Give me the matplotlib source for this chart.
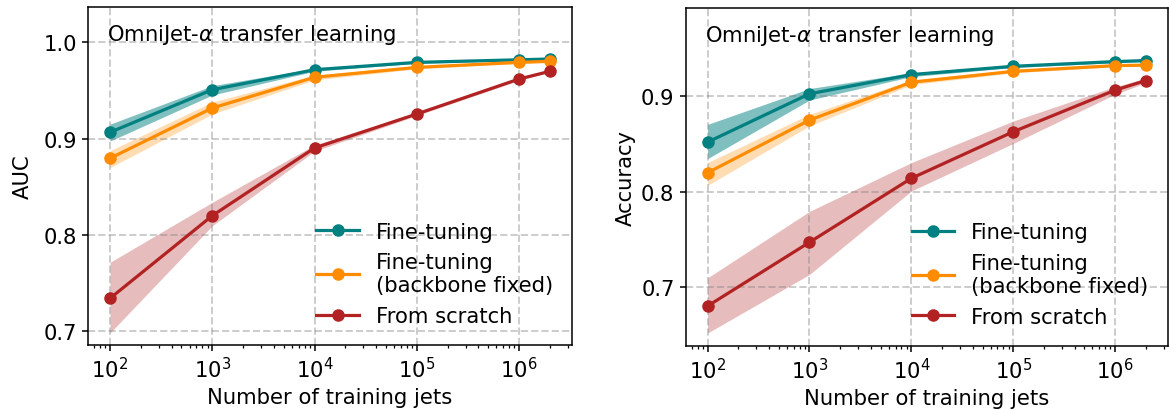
import numpy as np
import matplotlib
matplotlib.use("Agg")
import matplotlib.pyplot as plt

n_jets = [1e2, 1e3, 1e4, 1e5, 1e6, 2e6]
labels = ["Fine-tuning", "Fine-tuning\n(backbone fixed)", "From scratch"]
colors = ["#008080", "#ff8c00", "#b22222"]
band_alpha = [0.5, 0.3, 0.3]

# AUC (left panel): mean, lower, upper
auc_ft = [0.9066, 0.9508, 0.9716, 0.9792, 0.9819, 0.9827]
auc_ft_lo = [0.8975, 0.9453, 0.9700, 0.9782, 0.9810, 0.9820]
auc_ft_hi = [0.9150, 0.9550, 0.9730, 0.9800, 0.9828, 0.9834]
auc_fix = [0.8796, 0.9318, 0.9637, 0.9740, 0.9792, 0.9803]
auc_fix_lo = [0.8700, 0.9256, 0.9610, 0.9725, 0.9782, 0.9795]
auc_fix_hi = [0.8875, 0.9380, 0.9660, 0.9752, 0.9800, 0.9811]
auc_fs = [0.7342, 0.8200, 0.8903, 0.9256, 0.9619, 0.9699]
auc_fs_lo = [0.6983, 0.8096, 0.8870, 0.9240, 0.9605, 0.9690]
auc_fs_hi = [0.7716, 0.8339, 0.8935, 0.9272, 0.9630, 0.9708]

# Accuracy (right panel)
acc_ft = [0.8520, 0.9025, 0.9226, 0.9313, 0.9362, 0.9373]
acc_ft_lo = [0.8347, 0.8960, 0.9205, 0.9300, 0.9350, 0.9362]
acc_ft_hi = [0.8705, 0.9080, 0.9245, 0.9325, 0.9374, 0.9384]
acc_fix = [0.8200, 0.8750, 0.9146, 0.9260, 0.9320, 0.9325]
acc_fix_lo = [0.8068, 0.8690, 0.9120, 0.9245, 0.9308, 0.9315]
acc_fix_hi = [0.8306, 0.8810, 0.9170, 0.9275, 0.9332, 0.9335]
acc_fs = [0.6805, 0.7472, 0.8141, 0.8628, 0.9063, 0.9164]
acc_fs_lo = [0.6523, 0.7135, 0.8008, 0.8506, 0.9020, 0.9140]
acc_fs_hi = [0.7100, 0.7795, 0.8305, 0.8740, 0.9100, 0.9188]

auc_yticks = [0.7, 0.8, 0.9, 1.0]
acc_yticks = [0.7, 0.8, 0.9]

FS = 15.2
fig = plt.figure(figsize=(11.69, 4.14), dpi=100)
ax1 = fig.add_axes([0.0753, 0.1643, 0.4138, 0.8164])
ax2 = fig.add_axes([0.5866, 0.1626, 0.4122, 0.8164])

panels = [
    (ax1, [(auc_ft, auc_ft_lo, auc_ft_hi), (auc_fix, auc_fix_lo, auc_fix_hi),
           (auc_fs, auc_fs_lo, auc_fs_hi)], "AUC", auc_yticks, (0.6858, 1.0367), 7.5),
    (ax2, [(acc_ft, acc_ft_lo, acc_ft_hi), (acc_fix, acc_fix_lo, acc_fix_hi),
           (acc_fs, acc_fs_lo, acc_fs_hi)], "Accuracy", acc_yticks, (0.639, 0.9926), 4.0),
]

for ax, series, ylabel, yticks, ylim, lpad in panels:
    for (m, lo, hi), lab, c, a in zip(series, labels, colors, band_alpha):
        ax.fill_between(n_jets, lo, hi, color=c, alpha=a, lw=0)
        ax.plot(n_jets, m, "o-", color=c, lw=2.3, ms=8, label=lab)
    ax.set_xscale("log")
    ax.set_ylim(*ylim)
    ax.set_yticks(yticks)
    ax.set_yticklabels([f"{v:.1f}" for v in yticks])
    ax.set_xlabel("Number of training jets", fontsize=FS)
    ax.set_ylabel(ylabel, fontsize=FS, labelpad=lpad)
    ax.tick_params(labelsize=FS, width=1.1, length=4.5)
    ax.tick_params(which="minor", width=0.9, length=2.5)
    for s in ax.spines.values():
        s.set_linewidth(1.1)
    ax.grid(True, which="major", ls="--", color="gray", alpha=0.4, lw=1.4)
    ax.text(0.04, 0.955, r"OmniJet-$\alpha$ transfer learning", transform=ax.transAxes,
            fontsize=FS, va="top", ha="left")
    ax.legend(loc="lower right", frameon=False, fontsize=FS, handlelength=2.0)

fig.savefig("out.png", dpi=100)
